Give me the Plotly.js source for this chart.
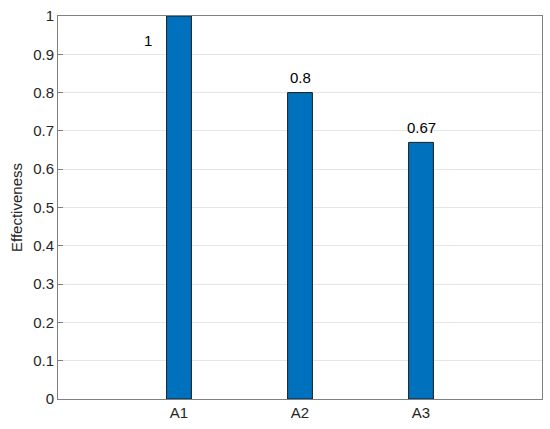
<!DOCTYPE html>
<html>
<head>
<meta charset="utf-8">
<script src="https://cdn.plot.ly/plotly-3.0.1.min.js"></script>
<style>
  html, body { margin: 0; padding: 0; background: #fff; }
  #chart { width: 550px; height: 429px; }
</style>
</head>
<body>
<div id="chart"></div>
<script>
// bar data
const alternatives = ["A1", "A2", "A3"];
const effectiveness = [1, 0.8, 0.67];
const valueLabels = ["1", "0.8", "0.67"];
const yTicks = [0, 0.1, 0.2, 0.3, 0.4, 0.5, 0.6, 0.7, 0.8, 0.9, 1];

const font = { family: "Liberation Sans, Arial, sans-serif", color: "#262626", size: 15 };

// label offsets (the first label sits beside its bar, like in the original)
const labelShift = alternatives.map((a, i) => i === 0 ? { x: -31, y: -24 } : { x: 0, y: 15 });

Plotly.newPlot("chart", [{
  type: "bar",
  x: alternatives,
  y: effectiveness,
  width: 0.205,
  marker: { color: "#0072BD", line: { color: "#1a1a1a", width: 1 } },
  hoverinfo: "none"
}], {
  width: 550,
  height: 429,
  margin: { l: 58, r: 8, t: 16, b: 30 },
  paper_bgcolor: "#fff",
  plot_bgcolor: "#fff",
  font: font,
  showlegend: false,
  xaxis: {
    type: "category",
    range: [-1, 3],
    showgrid: false,
    zeroline: false,
    showline: true,
    mirror: true,
    linecolor: "#808080",
    linewidth: 1,
    ticks: "",
    tickfont: { size: 15, color: "#262626" }
  },
  yaxis: {
    range: [0, 1],
    tickvals: yTicks,
    ticktext: yTicks.map(v => String(v)),
    showgrid: true,
    gridcolor: "#e6e6e6",
    zeroline: false,
    showline: true,
    mirror: true,
    linecolor: "#808080",
    linewidth: 1,
    ticks: "inside",
    ticklen: 5,
    tickcolor: "#808080",
    tickfont: { size: 15, color: "#262626" },
    title: { text: "Effectiveness", font: { size: 15, color: "#262626" }, standoff: 6 }
  },
  annotations: alternatives.map((a, i) => ({
    x: a,
    y: effectiveness[i],
    text: valueLabels[i],
    showarrow: false,
    xanchor: "center",
    yanchor: "middle",
    xshift: labelShift[i].x,
    yshift: labelShift[i].y,
    font: { size: 15, color: "#000" }
  }))
}, { displayModeBar: false, staticPlot: true });
</script>
</body>
</html>
